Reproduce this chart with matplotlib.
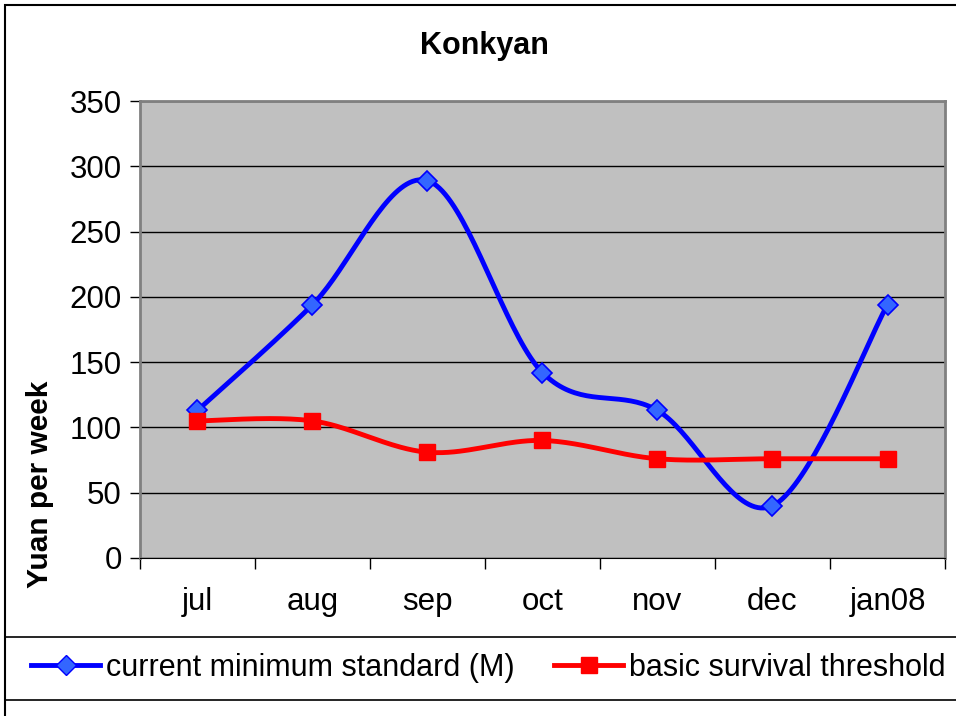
import numpy as np
import matplotlib.pyplot as plt
from matplotlib.patches import Rectangle
from matplotlib.lines import Line2D

plt.rcParams['font.family'] = ['Liberation Sans', 'DejaVu Sans']

# Data
months = ['jul', 'aug', 'sep', 'oct', 'nov', 'dec', 'jan08']
current_min = [113, 194, 289, 142, 113, 40, 194]
survival = [105, 105, 81, 90, 76, 76, 76]
y_ticks = [0, 50, 100, 150, 200, 250, 300, 350]


def excel_smooth(xs, ys, n=40):
    """Bezier smoothing in the style of Excel's smoothed line."""
    xs = np.asarray(xs, float)
    ys = np.asarray(ys, float)
    pts = np.column_stack([xs, ys])
    out = [pts[0]]
    t = np.linspace(0, 1, n)[1:, None]
    for i in range(len(pts) - 1):
        p0 = pts[max(i - 1, 0)]
        p1 = pts[i]
        p2 = pts[i + 1]
        p3 = pts[min(i + 2, len(pts) - 1)]
        c1 = p1 + (p2 - p0) / 6.0
        c2 = p2 - (p3 - p1) / 6.0
        seg = ((1 - t) ** 3) * p1 + 3 * ((1 - t) ** 2) * t * c1 \
            + 3 * (1 - t) * t ** 2 * c2 + t ** 3 * p2
        out.extend(seg)
    out = np.array(out)
    return out[:, 0], out[:, 1]


fig = plt.figure(figsize=(9.56, 7.16), dpi=100)
ax = fig.add_axes([0.1464, 0.2207, 0.8421, 0.6382])
ax.set_facecolor('#C0C0C0')

x = np.arange(len(months)) + 0.5

bx, by = excel_smooth(x, current_min)
ax.plot(bx, by, color='#0000FF', lw=3.5, zorder=3)
ax.plot(x, current_min, ls='none', marker='D', ms=10, mfc='#3366FF',
        mec='#0000FF', mew=1.2, zorder=4)

rx, ry = excel_smooth(x, survival)
ax.plot(rx, ry, color='#FF0000', lw=3.5, zorder=3)
ax.plot(x, survival, ls='none', marker='s', ms=11, mfc='#FF0000',
        mec='#FF0000', zorder=4)

ax.set_xlim(0, len(months))
ax.set_ylim(0, 350)
ax.set_yticks(y_ticks)
ax.yaxis.grid(True, color='black', lw=1)
ax.set_axisbelow(True)
ax.set_xticks(np.arange(len(months) + 1))
ax.set_xticklabels([])
ax.set_xticks(x, minor=True)
ax.set_xticklabels(months, minor=True)
ax.tick_params(axis='x', which='minor', length=0, pad=21, labelsize=22.5)
ax.tick_params(axis='x', which='major', length=8, width=1, direction='out')
ax.tick_params(axis='y', length=7, width=1, direction='out', labelsize=22.5, pad=6)

for side in ['top', 'right', 'left']:
    ax.spines[side].set_color('#808080')
    ax.spines[side].set_linewidth(2)
ax.spines['bottom'].set_color('black')

fig.text(0.042, 0.323, 'Yuan per week', rotation=90, ha='center', va='center',
         fontsize=21.5, fontweight='bold')
fig.text(0.507, 0.936, 'Konkyan', ha='center', va='center',
         fontsize=22, fontweight='bold')

# outer border of the chart
fig.add_artist(Rectangle((0.005, -0.01), 1.0, 1.003, transform=fig.transFigure,
                         fill=False, edgecolor='black', lw=1.5))
# legend box
fig.add_artist(Rectangle((0.005, 0.022), 1.0, 0.089, transform=fig.transFigure,
                         fill=False, edgecolor='black', lw=1.2))

handles = [
    Line2D([], [], color='#0000FF', lw=3.5, marker='D', ms=10, mfc='#3366FF', mec='#0000FF'),
    Line2D([], [], color='#FF0000', lw=3.5, marker='s', ms=11, mfc='#FF0000', mec='#FF0000'),
]
fig.legend(handles, ['current minimum standard (M)', 'basic survival threshold'],
           loc='center', bbox_to_anchor=(0.511, 0.067), ncol=2, frameon=False,
           fontsize=22, handlelength=2.25, handletextpad=0.2, columnspacing=1.3,
           borderpad=0)

fig.savefig('out.png', dpi=100)
